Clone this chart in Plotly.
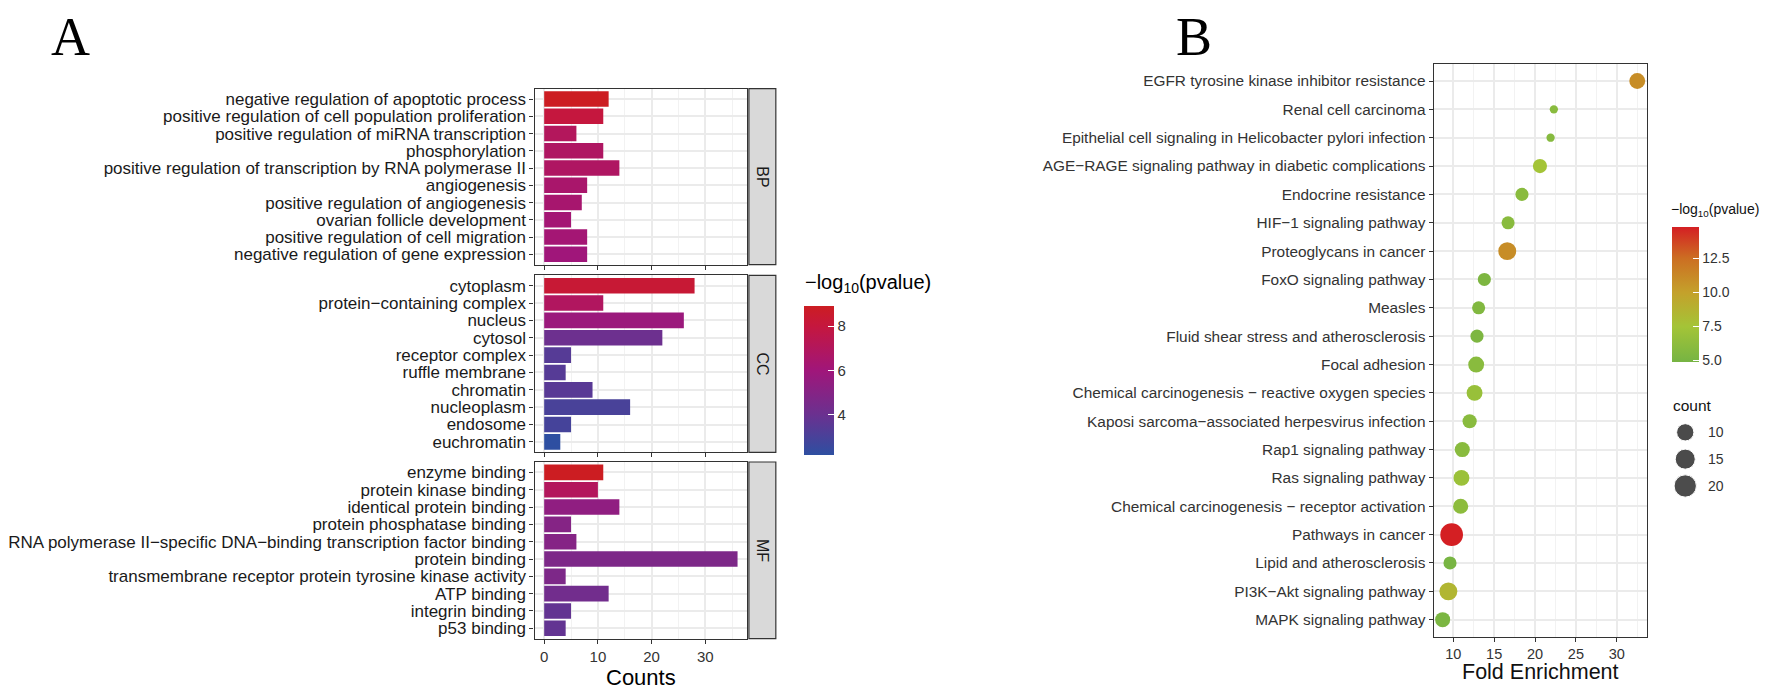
import numpy as np
import plotly.graph_objects as go

# target picture size; the page body adds an 8px margin, so the figure is
# shrunk by that amount and every position is shifted back by it
W, H = 1772, 689
OFF = 8
FW, FH = W - OFF, H - OFF

# ---- panel A : GO enrichment (BP / CC / MF) ----
bp_terms = ["negative regulation of apoptotic process",
            "positive regulation of cell population proliferation",
            "positive regulation of miRNA transcription",
            "phosphorylation",
            "positive regulation of transcription by RNA polymerase II",
            "angiogenesis",
            "positive regulation of angiogenesis",
            "ovarian follicle development",
            "positive regulation of cell migration",
            "negative regulation of gene expression"]
bp_counts = [12, 11, 6, 11, 14, 8, 7, 5, 8, 8]
bp_logp = [8.9, 8.0, 7.0, 6.8, 6.8, 6.5, 6.4, 6.2, 6.2, 6.0]

cc_terms = ["cytoplasm", "protein−containing complex", "nucleus", "cytosol",
            "receptor complex", "ruffle membrane", "chromatin", "nucleoplasm",
            "endosome", "euchromatin"]
cc_counts = [28, 11, 26, 22, 5, 4, 9, 16, 5, 3]
cc_logp = [8.3, 6.9, 5.8, 4.1, 3.4, 3.4, 3.5, 3.0, 2.9, 2.2]

mf_terms = ["enzyme binding", "protein kinase binding", "identical protein binding",
            "protein phosphatase binding",
            "RNA polymerase II−specific DNA−binding transcription factor binding",
            "protein binding",
            "transmembrane receptor protein tyrosine kinase activity",
            "ATP binding", "integrin binding", "p53 binding"]
mf_counts = [11, 10, 14, 5, 6, 36, 4, 12, 5, 4]
mf_logp = [8.9, 7.0, 5.4, 5.0, 5.0, 4.7, 4.7, 4.3, 3.8, 3.8]

go_groups = ["BP", "CC", "MF"]
a_ticks = [0, 10, 20, 30]
a_cbar_ticks = [4, 6, 8]

# ---- panel B : KEGG enrichment ----
kegg_terms = ["EGFR tyrosine kinase inhibitor resistance",
              "Renal cell carcinoma",
              "Epithelial cell signaling in Helicobacter pylori infection",
              "AGE−RAGE signaling pathway in diabetic complications",
              "Endocrine resistance",
              "HIF−1 signaling pathway",
              "Proteoglycans in cancer",
              "FoxO signaling pathway",
              "Measles",
              "Fluid shear stress and atherosclerosis",
              "Focal adhesion",
              "Chemical carcinogenesis − reactive oxygen species",
              "Kaposi sarcoma−associated herpesvirus infection",
              "Rap1 signaling pathway",
              "Ras signaling pathway",
              "Chemical carcinogenesis − receptor activation",
              "Pathways in cancer",
              "Lipid and atherosclerosis",
              "PI3K−Akt signaling pathway",
              "MAPK signaling pathway"]
kegg_fold = [32.5, 22.3, 21.9, 20.6, 18.4, 16.7, 16.6, 13.8, 13.1, 12.9,
             12.8, 12.6, 12.0, 11.1, 11.0, 10.9, 9.8, 9.6, 9.4, 8.7]
kegg_count = [8, 3, 3, 6, 5, 5, 11, 5, 5, 5, 8, 8, 6, 7, 8, 7, 21, 5, 11, 7]
kegg_logp = [11.0, 6.0, 5.8, 7.5, 6.0, 6.0, 11.0, 5.3, 5.5, 5.3,
             6.0, 6.8, 6.0, 6.0, 7.0, 6.2, 14.8, 5.0, 8.5, 5.2]
b_ticks = [10, 15, 20, 25, 30]
b_cbar_ticks = [5.0, 7.5, 10.0, 12.5]
count_legend = [10, 15, 20]


def px(x):
    return (x - OFF) / FW


def py(y):
    return 1 - (y - OFF) / FH


def stops(pairs):
    lo, hi = pairs[0][0], pairs[-1][0]
    return [[(v - lo) / (hi - lo), c] for v, c in pairs]


a_scale = [(2.2, "#2E4FA1"), (4.0, "#6A3190"), (6.0, "#A0167A"),
           (8.0, "#C5173E"), (8.9, "#CC1D22")]
b_scale = [(4.9, "#76B443"), (7.5, "#A4C437"), (10.0, "#C4A12B"),
           (12.5, "#CC6E22"), (14.8, "#D41F23")]

# count -> marker diameter (area-like scaling as in ggplot)
c_lo, c_hi, d_lo, d_hi = 3, 21, 8.3, 22.7


def dot_size(c):
    c = np.asarray(c, dtype=float)
    return d_lo + (d_hi - d_lo) * np.sqrt((c - c_lo) / (c_hi - c_lo))


grid = "#EBEBEB"
frame = "#333333"

fig = go.Figure()

# panel A bars, one facet per GO group
a_dom_x = [px(531), px(744.3)]
a_dom_y = [[py(264.7), py(88.7)], [py(452.3), py(275.3)], [py(638.7), py(462)]]
facets = [(bp_terms, bp_counts, bp_logp), (cc_terms, cc_counts, cc_logp),
          (mf_terms, mf_counts, mf_logp)]

layout_axes = {}
for i, (terms, counts, logp) in enumerate(facets):
    n = "" if i == 0 else str(i + 1)
    fig.add_trace(go.Bar(
        x=counts, y=terms, orientation="h", width=0.9,
        marker=dict(color=logp, coloraxis="coloraxis", line=dict(width=0)),
        xaxis="x" + n, yaxis="y" + n, showlegend=False))
    layout_axes["xaxis" + n] = dict(
        domain=a_dom_x, anchor="y" + n, range=[-1.8, 37.8],
        tickvals=a_ticks, showticklabels=(i == 2),
        ticks="outside", ticklen=4, tickcolor=frame,
        tickfont=dict(size=15, color="#333"),
        showgrid=True, gridcolor=grid, gridwidth=1.5,
        minor=dict(tickvals=[5, 15, 25, 35], showgrid=True, gridcolor="#F2F2F2", gridwidth=0.8),
        showline=True, mirror=True, linecolor=frame, linewidth=1.2, zeroline=False)
    layout_axes["yaxis" + n] = dict(
        domain=a_dom_y[i], anchor="x" + n, type="category",
        categoryorder="array", categoryarray=terms, range=[9.6, -0.6],
        tickmode="array", tickvals=terms, ticktext=terms,
        ticks="outside", ticklen=4, tickcolor=frame,
        tickfont=dict(size=17, color="#1a1a1a"),
        showgrid=True, gridcolor=grid, gridwidth=1.5,
        showline=True, mirror=True, linecolor=frame, linewidth=1.2)

# panel B dots
fig.add_trace(go.Scatter(
    x=kegg_fold, y=kegg_terms, mode="markers",
    marker=dict(size=dot_size(kegg_count), color=kegg_logp, coloraxis="coloraxis2",
                opacity=1, line=dict(width=0)),
    xaxis="x4", yaxis="y4", showlegend=False))
layout_axes["xaxis4"] = dict(
    domain=[px(1432.7), px(1646.7)], anchor="y4", range=[7.6, 33.7],
    tickvals=b_ticks, ticks="outside", ticklen=4, tickcolor=frame,
    tickfont=dict(size=14.5, color="#333"),
    showgrid=True, gridcolor=grid, gridwidth=1.5,
    minor=dict(tickvals=[7.5, 12.5, 17.5, 22.5, 27.5, 32.5], showgrid=True,
               gridcolor="#F2F2F2", gridwidth=0.8),
    showline=True, mirror=True, linecolor=frame, linewidth=1.2, zeroline=False)
layout_axes["yaxis4"] = dict(
    domain=[py(636.7), py(64)], anchor="x4", type="category",
    categoryorder="array", categoryarray=kegg_terms, range=[19.6, -0.6],
    tickmode="array", tickvals=kegg_terms, ticktext=kegg_terms,
    ticks="outside", ticklen=4, tickcolor=frame,
    tickfont=dict(size=15.4, color="#333"),
    showgrid=True, gridcolor=grid, gridwidth=1.5,
    showline=True, mirror=True, linecolor=frame, linewidth=1.2)

# size legend for "count", drawn on a hidden helper axis
fig.add_trace(go.Scatter(
    x=[0] * len(count_legend), y=count_legend, mode="markers",
    marker=dict(size=dot_size(count_legend), color="#000"),
    xaxis="x5", yaxis="y5", showlegend=False, hoverinfo="skip"))
layout_axes["xaxis5"] = dict(domain=[px(1672), px(1772)], anchor="y5", range=[-13, 87],
                             visible=False, fixedrange=True)
layout_axes["yaxis5"] = dict(domain=[py(502.1), py(416.2)], anchor="x5", range=[23, 7],
                             visible=False, fixedrange=True)

shapes = []
annotations = []
# facet strips
for i, g in enumerate(go_groups):
    y0, y1 = a_dom_y[i]
    shapes.append(dict(type="rect", xref="paper", yref="paper", x0=px(746), x1=px(773),
                       y0=y0, y1=y1, fillcolor="#D9D9D9", line=dict(color=frame, width=1.2)))
    annotations.append(dict(text=g, xref="paper", yref="paper", x=px(759.5), y=(y0 + y1) / 2,
                            xanchor="center", yanchor="middle", textangle=90,
                            showarrow=False, font=dict(size=16, color="#1a1a1a")))

for c in count_legend:
    annotations.append(dict(text=str(c), xref="x5", yref="y5", x=21, y=c,
                            xanchor="left", yanchor="middle",
                            showarrow=False, font=dict(size=14, color="#333")))


def label(text, x, y, size, color="#111", xanchor="center", family=None):
    f = dict(size=size, color=color)
    if family:
        f["family"] = family
    return dict(text=text, xref="paper", yref="paper", x=px(x), y=py(y),
                xanchor=xanchor, yanchor="middle", showarrow=False, font=f)


annotations += [
    label("A", 66, 37, 54, "#000", family="Liberation Serif"),
    label("B", 1192, 37, 54, "#000", family="Liberation Serif"),
    label("Counts", 637.6, 677, 22, "#000"),
    label("Fold Enrichment", 1539.7, 671.7, 21.5),
    label("−log<sub>10</sub>(pvalue)", 800, 283, 20, "#000", xanchor="left"),
    label("−log<sub>10</sub>(pvalue)", 1669, 210, 14, xanchor="left"),
    label("count", 1671, 405, 15.5, xanchor="left"),
]

fig.update_layout(
    width=FW, height=FH, margin=dict(l=0, r=0, t=0, b=0),
    paper_bgcolor="white", plot_bgcolor="white",
    font=dict(family="Liberation Sans, Arial", color="#1a1a1a"),
    showlegend=False,
    coloraxis=dict(
        cmin=a_scale[0][0], cmax=a_scale[-1][0], colorscale=stops(a_scale),
        colorbar=dict(x=px(801.7), xanchor="left", y=py(306), yanchor="top",
                      thickness=30, len=149, lenmode="pixels", xpad=0, ypad=0,
                      outlinewidth=0, tickvals=a_cbar_ticks, ticks="inside",
                      tickcolor="white", ticklen=6,
                      tickfont=dict(size=15, color="#333"))),
    coloraxis2=dict(
        cmin=b_scale[0][0], cmax=b_scale[-1][0], colorscale=stops(b_scale),
        colorbar=dict(x=px(1671.7), xanchor="left", y=py(226.7), yanchor="top",
                      thickness=27, len=135, lenmode="pixels", xpad=0, ypad=0,
                      outlinewidth=0, tickvals=b_cbar_ticks,
                      ticktext=[f"{v:.1f}" for v in b_cbar_ticks], ticks="inside",
                      tickcolor="white", ticklen=6,
                      tickfont=dict(size=14, color="#333"))),
    shapes=shapes, annotations=annotations,
    **layout_axes)

fig.write_html("out.html")
